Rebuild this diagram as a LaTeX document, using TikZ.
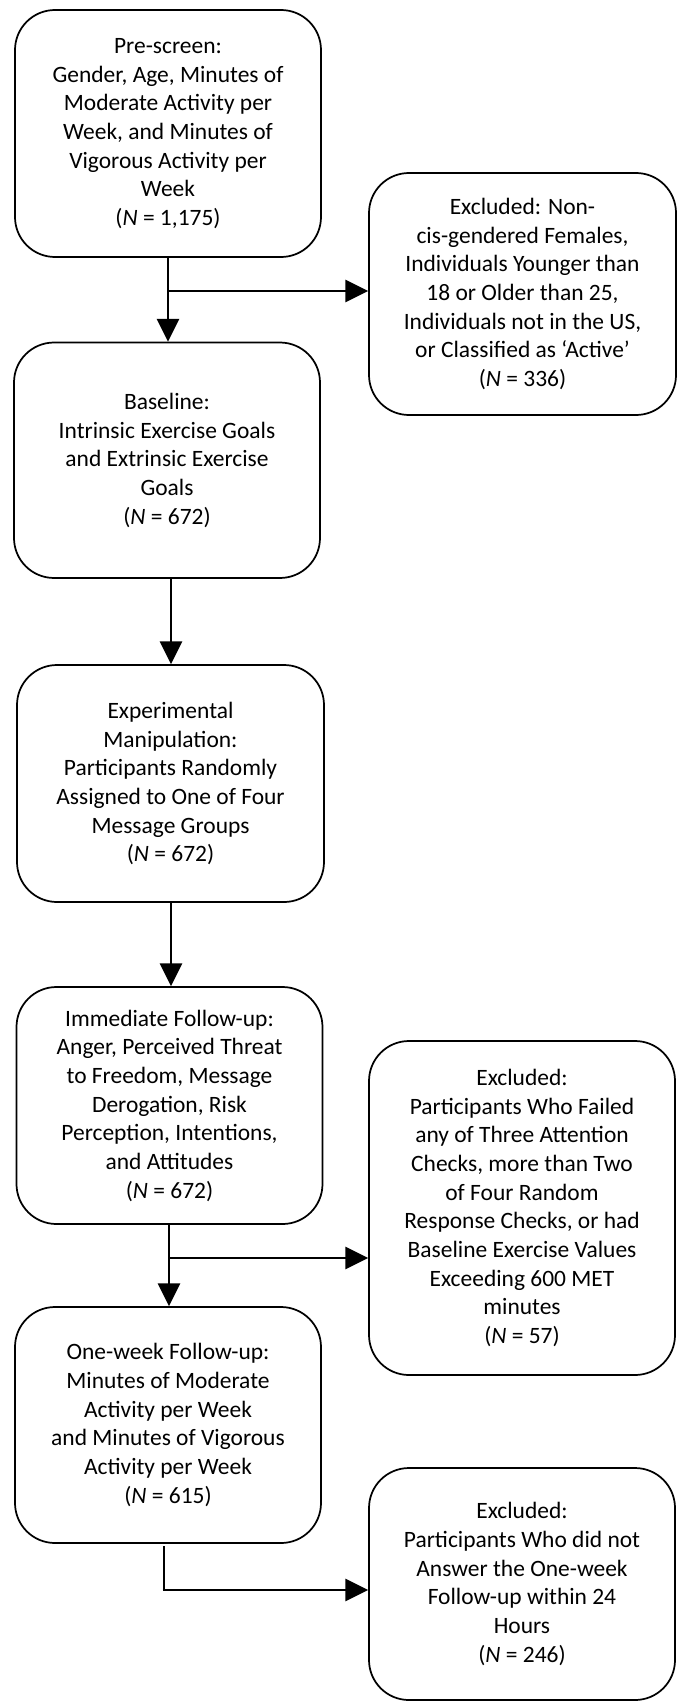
\documentclass[tikz,border=0pt]{standalone}
\usepackage{fontspec}
\setmainfont{Carlito}
\usetikzlibrary{arrows.meta}
\tikzset{
  flowbox/.style={draw, line width=1.3pt, rounded corners=30pt, align=center,
    inner sep=0pt, font=\fontsize{17.6}{21.5}\selectfont},
  arr/.style={line width=1.9pt, -{Triangle[length=17pt,width=16.5pt]}},
  seg/.style={line width=1.9pt}
}
\begin{document}
\begin{tikzpicture}[x=0.75pt,y=-0.75pt]
\useasboundingbox (0,0) rectangle (678,1701);
\node[flowbox, minimum width=229.5pt, minimum height=185.25pt] (b1) at (168,133.5)
  {Pre-screen:\\Gender, Age, Minutes of\\Moderate Activity per\\Week, and Minutes of\\Vigorous Activity per\\Week\\(\textit{N} = 1,175)};
\node[flowbox, minimum width=230.25pt, minimum height=181.5pt] (e1) at (522.5,294)
  {Excluded: Non-\\cis-gendered Females,\\Individuals Younger than\\18 or Older than 25,\\Individuals not in the US,\\or Classified as ‘Active’\\(\textit{N} = 336)};
\node[flowbox, minimum width=229.5pt, minimum height=176.6pt] (b2) at (167,460.25)
  {Baseline:\\Intrinsic Exercise Goals\\and Extrinsic Exercise\\Goals\\(\textit{N} = 672)};
\node[flowbox, minimum width=230.25pt, minimum height=177.75pt] (b3) at (170.5,783.5)
  {Experimental\\Manipulation:\\Participants Randomly\\Assigned to One of Four\\Message Groups\\(\textit{N} = 672)};
\node[flowbox, minimum width=229.5pt, minimum height=177.75pt] (b4) at (169.5,1105.5)
  {Immediate Follow-up:\\Anger, Perceived Threat\\to Freedom, Message\\Derogation, Risk\\Perception, Intentions,\\and Attitudes\\(\textit{N} = 672)};
\node[flowbox, minimum width=229.5pt, minimum height=250.5pt] (e2) at (522,1208)
  {Excluded:\\Participants Who Failed\\any of Three Attention\\Checks, more than Two\\of Four Random\\Response Checks, or had\\Baseline Exercise Values\\Exceeding 600 MET\\minutes\\(\textit{N} = 57)};
\node[flowbox, minimum width=229.5pt, minimum height=177pt] (b5) at (168,1425)
  {One-week Follow-up:\\Minutes of Moderate\\Activity per Week\\and Minutes of Vigorous\\Activity per Week\\(\textit{N} = 615)};
\node[flowbox, minimum width=229.5pt, minimum height=174pt] (e3) at (522,1584)
  {Excluded:\\Participants Who did not\\Answer the One-week\\Follow-up within 24\\Hours\\(\textit{N} = 246)};
% connectors
\coordinate (s1) at (168,257);
\coordinate (j1) at (168,291);
\draw[arr] (s1) -- (s1 |- b2.north);
\draw[arr] (j1) -- (j1 -| e1.west);
\coordinate (s2) at (171,578);
\draw[arr] (s2) -- (s2 |- b3.north);
\coordinate (s3) at (171,902);
\draw[arr] (s3) -- (s3 |- b4.north);
\coordinate (s4) at (169,1224);
\coordinate (j4) at (169,1258);
\draw[arr] (s4) -- (s4 |- b5.north);
\draw[arr] (j4) -- (j4 -| e2.west);
\coordinate (s5) at (164,1546);
\coordinate (j5) at (164,1590);
\draw[seg] (s5) -- (j5);
\draw[arr] ([xshift=-0.95pt]j5) -- (j5 -| e3.west);
\end{tikzpicture}
\end{document}
